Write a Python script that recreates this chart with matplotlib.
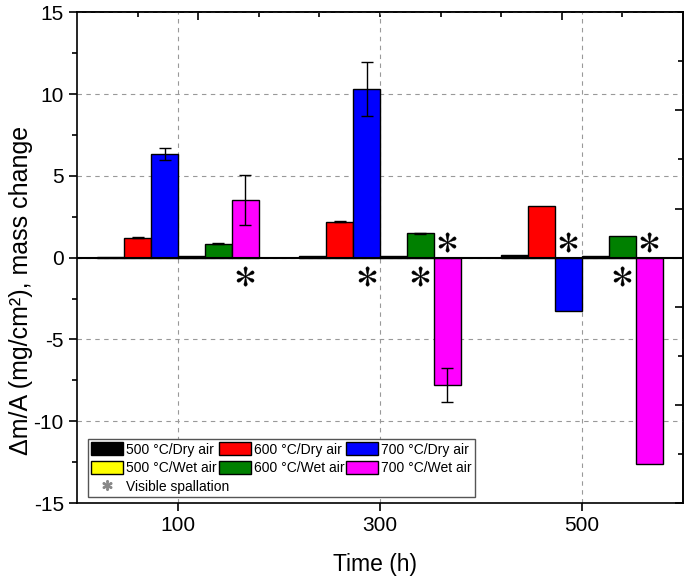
import matplotlib
matplotlib.use("Agg")
import numpy as np
import matplotlib.pyplot as plt
from matplotlib.patches import Patch
from matplotlib.lines import Line2D

plt.rcParams['font.family'] = ['Liberation Sans', 'DejaVu Sans']
plt.rcParams['mathtext.fontset'] = 'stix'
plt.rcParams['axes.unicode_minus'] = False

times = [100, 300, 500]
labels = ['500 °C/Dry air', '600 °C/Dry air', '700 °C/Dry air',
          '500 °C/Wet air', '600 °C/Wet air', '700 °C/Wet air']
colors = ['#000000', '#FF0000', '#0000FF', '#FFFF00', '#008000', '#FF00FF']

dry500 = [0.05, 0.10, 0.15]
dry600 = [1.22, 2.20, 3.15]
dry700 = [6.35, 10.30, -3.25]
wet500 = [0.10, 0.10, 0.10]
wet600 = [0.86, 1.49, 1.33]
wet700 = [3.52, -7.80, -12.60]

dry500_err = [0, 0, 0]
dry600_err = [0.05, 0.05, 0]
dry700_err = [0.38, 1.63, 0]
wet500_err = [0, 0, 0]
wet600_err = [0.02, 0.03, 0]
wet700_err = [1.50, 1.04, 0]

# (series index, time index) of bars with visible spallation
spalled = [(5, 0), (2, 1), (4, 1), (5, 1), (2, 2), (4, 2), (5, 2)]

series = [dry500, dry600, dry700, wet500, wet600, wet700]
errs = [dry500_err, dry600_err, dry700_err, wet500_err, wet600_err, wet700_err]

fig = plt.figure(figsize=(6.85, 5.82), dpi=100)
ax = fig.add_axes([0.1124, 0.1357, 0.8846, 0.8433])

width = 160 / 6
x = np.array(times, dtype=float)
for i, (vals, err) in enumerate(zip(series, errs)):
    pos = x + (i - 2.5) * width
    ax.bar(pos, vals, width=width, color=colors[i], edgecolor='black',
           linewidth=1.0, zorder=3, label=labels[i])
    e = np.array(err)
    m = e > 0
    if m.any():
        ax.errorbar(pos[m], np.array(vals)[m], yerr=e[m], fmt='none',
                    ecolor='black', elinewidth=1.0, capsize=4, capthick=1.0, zorder=4)

for si, ti in spalled:
    v = series[si][ti]
    px = times[ti] + (si - 2.5) * width
    py = 0.95 if v < 0 else -1.15
    ax.plot(px, py, marker='$\\ast$', color='black', markersize=14,
            markeredgewidth=0.3, linestyle='none', zorder=5)

ax.axhline(0, color='black', linewidth=1.5, zorder=3)

ax.set_xlim(0, 600)
ax.set_ylim(-15, 15)
ax.set_xticks(times)
ax.set_yticks(np.arange(-15, 16, 5))
ax.set_yticks(np.arange(-15, 15.1, 2.5), minor=True)
ax.grid(True, which='major', linestyle=(0, (4, 4)), color='#999999', linewidth=0.8, zorder=0)
ax.tick_params(axis='both', which='major', direction='out', length=6, width=1.2, labelsize=15)
ax.tick_params(axis='y', which='minor', direction='out', length=3.5, width=1.2)
for s in ax.spines.values():
    s.set_linewidth(1.2)

top = ax.secondary_xaxis('top')
top.set_xticks([120, 480])
top.set_xticks([60, 180, 240, 300, 360, 420, 540], minor=True)
top.tick_params(which='major', direction='in', length=6, width=1.2, labeltop=False)
top.tick_params(which='minor', direction='in', length=3.5, width=1.2)
top.spines['top'].set_linewidth(1.2)

right = ax.secondary_yaxis('right')
right.set_yticks([-15, -9, -3, 3, 9, 15])
right.set_yticks([-12, -6, 0, 6, 12], minor=True)
right.tick_params(which='major', direction='in', length=6, width=1.2, labelright=False)
right.tick_params(which='minor', direction='in', length=3.5, width=1.2)
right.spines['right'].set_linewidth(1.2)

ax.set_xlabel('Time (h)', fontsize=16.5)
ax.set_ylabel('Δm/A (mg/cm²), mass change', fontsize=18)
ax.xaxis.set_label_coords(0.492, -0.102)
ax.yaxis.set_label_coords(-0.073, 0.434)

handles = [Patch(facecolor=colors[0], edgecolor='black', label=labels[0]),
           Patch(facecolor=colors[3], edgecolor='black', label=labels[3]),
           Line2D([], [], marker='$\\ast$', color='#888888', linestyle='none',
                  markersize=7, label=' '),
           Patch(facecolor=colors[1], edgecolor='black', label=labels[1]),
           Patch(facecolor=colors[4], edgecolor='black', label=labels[4]),
           Patch(facecolor=colors[2], edgecolor='black', label=labels[2]),
           Patch(facecolor=colors[5], edgecolor='black', label=labels[5])]
leg = ax.legend(handles=handles, ncol=3, loc='lower left',
                bbox_to_anchor=(0.018, 0.012), borderaxespad=0, fontsize=10,
                fancybox=False, framealpha=1, edgecolor='#555555',
                handlelength=2.3, handleheight=1.1, handletextpad=0.2,
                columnspacing=0.15, labelspacing=0.3, borderpad=0.25)
leg.get_frame().set_linewidth(1.0)
leg.set_zorder(6)

# spallation label overflows its legend column, as in the original
fig.canvas.draw()
bb = leg.get_texts()[2].get_window_extent()
tx, ty = fig.transFigure.inverted().transform((bb.x0, (bb.y0 + bb.y1) / 2))
fig.text(tx, ty, 'Visible spallation', fontsize=10, va='center', ha='left', zorder=7)

fig.savefig('out.png', dpi=100)
